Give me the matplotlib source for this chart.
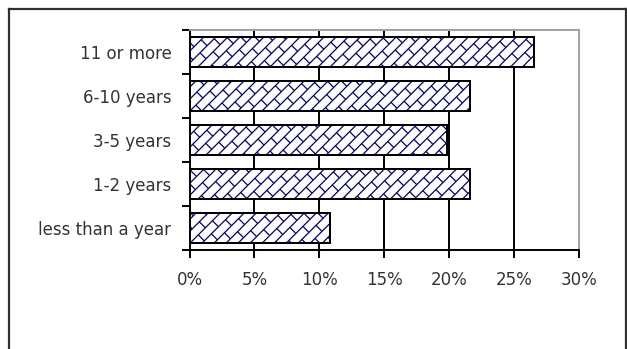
import numpy as np
import matplotlib
matplotlib.use("Agg")
from matplotlib import pyplot as plt
from matplotlib.collections import LineCollection
from matplotlib.transforms import IdentityTransform
from matplotlib.lines import Line2D

# years at the company, bottom to top
categories = ["less than a year", "1-2 years", "3-5 years", "6-10 years", "11 or more"]
shares = [10.8, 21.6, 19.8, 21.6, 26.5]
xticks = [0, 5, 10, 15, 20, 25, 30]
xtick_labels = ["0%", "5%", "10%", "15%", "20%", "25%", "30%"]

W, H, DPI = 627, 349, 100
plt.rcParams["font.family"] = "DejaVu Sans"

fig = plt.figure(figsize=(W / DPI, H / DPI), dpi=DPI)
fig.patch.set_facecolor("white")

# outer chart frame
for xs, ys in [((8.5, 8.5), (-5, 349 - 8.5)),
               ((8.5, 626), (349 - 8.5, 349 - 8.5)),
               ((626, 626), (-5, 349 - 8.5))]:
    fig.add_artist(Line2D(np.array(xs) / W, np.array(ys) / H, color="#303030",
                          lw=1.6, transform=fig.transFigure))

ax = fig.add_axes([189.5 / W, 99 / H, 389.5 / W, 220 / H])
ax.set_xlim(0, 30)
ax.set_ylim(-0.5, len(categories) - 0.5)

for x in xticks[1:-1]:
    ax.axvline(x, color="black", lw=1.4, zorder=1)

bars = ax.barh(range(len(categories)), shares, height=0.7, color="white",
               edgecolor="black", lw=1.4, zorder=2)

# brick hatch drawn in pixel space, clipped to each bar
d, L = 8.5, 20.0
r2 = np.sqrt(2)
x0, x1, y0, y1 = 180, 590, 90, 330
corners = np.array([[x0, y0], [x0, y1], [x1, y0], [x1, y1]])
s_all = (corners[:, 0] + corners[:, 1]) / r2
t_all = (corners[:, 0] - corners[:, 1]) / r2
smin, smax = s_all.min(), s_all.max()
segs = []
for k in range(int(np.floor(t_all.min() / d)) - 1, int(np.ceil(t_all.max() / d)) + 1):
    t = k * d
    segs.append([((smin + t) / r2, (smin - t) / r2), ((smax + t) / r2, (smax - t) / r2)])
    off = (k % 2) * L / 2
    for s in np.arange(smin - L + off, smax + L, L):
        ta, tb = t, t + d
        segs.append([((s + ta) / r2, (s - ta) / r2), ((s + tb) / r2, (s - tb) / r2)])
for bar in bars:
    lc = LineCollection(segs, colors="#000080", linewidths=0.9,
                        transform=IdentityTransform(), zorder=3)
    ax.add_collection(lc, autolim=False)
    lc.set_clip_path(bar)
    # redraw the outline above the pattern
    ax.add_patch(plt.Rectangle(bar.get_xy(), bar.get_width(), bar.get_height(),
                               fill=False, edgecolor="black", lw=1.4, zorder=4))

ax.set_xticks(xticks)
ax.set_xticklabels(xtick_labels)
ax.set_yticks(np.arange(-0.5, len(categories), 1.0))
ax.set_yticklabels([])
ax.set_yticks(range(len(categories)), minor=True)
ax.set_yticklabels(categories, minor=True)
ax.tick_params(axis="y", which="minor", length=0, pad=13, labelsize=12, labelcolor="#333333")
ax.tick_params(axis="y", which="major", length=6, width=1.4, direction="out")
ax.tick_params(axis="x", length=6, width=1.4, pad=9, labelsize=12, labelcolor="#333333")

ax.spines["left"].set_linewidth(1.4)
ax.spines["bottom"].set_linewidth(1.4)
ax.spines["top"].set_color("#a0a0a0")
ax.spines["right"].set_color("#a0a0a0")
ax.spines["top"].set_linewidth(1.4)
ax.spines["right"].set_linewidth(1.4)
ax.set_zorder(1)

fig.savefig("out.png", dpi=DPI)
